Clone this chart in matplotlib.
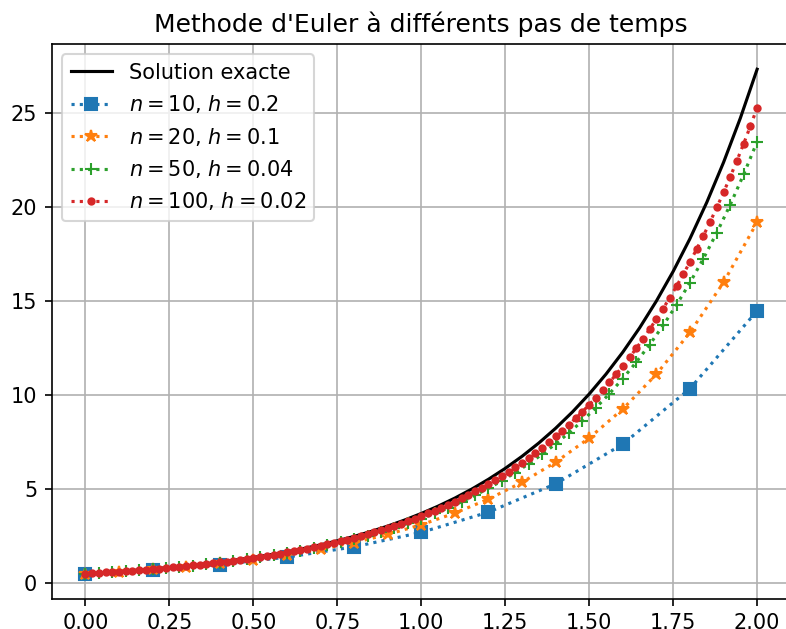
import numpy as np
import matplotlib.pyplot as plt

# solution exacte, echantillonnee tous les 0.05
y_exact = [0.5, 0.5526, 0.6107, 0.6749, 0.7459, 0.8244, 0.9111, 1.0069, 1.1128, 1.2298,
           1.3591, 1.5021, 1.6601, 1.8346, 2.0276, 2.2408, 2.4765, 2.7370, 3.0248, 3.3429,
           3.6945, 4.0831, 4.5125, 4.9871, 5.5116, 6.0912, 6.7319, 7.4399, 8.2223, 9.0871,
           10.0428, 11.0990, 12.2663, 13.5563, 14.9821, 16.5577, 18.2991, 20.2237, 22.3506,
           24.7012, 27.2991]

# Euler, n = 10
y_n10 = [0.5, 0.7, 0.98, 1.372, 1.9208, 2.6891, 3.7648, 5.2707, 7.3790, 10.3305, 14.4627]

# Euler, n = 20
y_n20 = [0.5, 0.6, 0.72, 0.864, 1.0368, 1.2442, 1.4930, 1.7916, 2.1499, 2.5799, 3.0959,
         3.7150, 4.4581, 5.3497, 6.4196, 7.7035, 9.2442, 11.0931, 13.3117, 15.9740, 19.1688]

# Euler, n = 50
y_n50 = [0.5, 0.54, 0.5832, 0.6299, 0.6802, 0.7347, 0.7934, 0.8569, 0.9255, 0.9995,
         1.0795, 1.1658, 1.2591, 1.3598, 1.4686, 1.5861, 1.7130, 1.8500, 1.9980, 2.1579,
         2.3305, 2.5169, 2.7183, 2.9357, 3.1706, 3.4242, 3.6982, 3.9940, 4.3136, 4.6586,
         5.0313, 5.4338, 5.8685, 6.3380, 6.8451, 7.3927, 7.9841, 8.6228, 9.3126, 10.0576,
         10.8623, 11.7312, 12.6697, 13.6833, 14.7780, 15.9602, 17.2370, 18.6160, 20.1053,
         21.7137, 23.4508]

# Euler, n = 100
y_n100 = [0.5, 0.52, 0.5408, 0.5624, 0.5849, 0.6083, 0.6327, 0.6580, 0.6843, 0.7117,
          0.7401, 0.7697, 0.8005, 0.8325, 0.8658, 0.9005, 0.9365, 0.9740, 1.0129, 1.0534,
          1.0956, 1.1394, 1.1850, 1.2324, 1.2817, 1.3329, 1.3862, 1.4417, 1.4994, 1.5593,
          1.6217, 1.6866, 1.7540, 1.8242, 1.8972, 1.9730, 2.0520, 2.1340, 2.2194, 2.3082,
          2.4005, 2.4965, 2.5964, 2.7002, 2.8083, 2.9206, 3.0374, 3.1589, 3.2853, 3.4167,
          3.5533, 3.6955, 3.8433, 3.9970, 4.1569, 4.3232, 4.4961, 4.6760, 4.8630, 5.0575,
          5.2598, 5.4702, 5.6890, 5.9166, 6.1532, 6.3994, 6.6553, 6.9216, 7.1984, 7.4864,
          7.7858, 8.0972, 8.4211, 8.7580, 9.1083, 9.4726, 9.8515, 10.2456, 10.6554, 11.0816,
          11.5249, 11.9859, 12.4653, 12.9639, 13.4825, 14.0218, 14.5827, 15.1660, 15.7726,
          16.4035, 17.0597, 17.7421, 18.4517, 19.1898, 19.9574, 20.7557, 21.5859, 22.4494,
          23.3473, 24.2812, 25.2525]

t_fin = 2.0

fig = plt.figure(figsize=(786 / 150, 629 / 150), dpi=150)
# l'axe deborde un peu a droite, comme dans l'original
ax = fig.add_axes([0.066, 0.048, 0.94, 0.882])

ax.plot(np.linspace(0, t_fin, len(y_exact)), y_exact, color='black',
        label='Solution exacte')
ax.plot(np.linspace(0, t_fin, len(y_n10)), y_n10, ':s', label=r'$n = 10$, $h = 0.2$')
ax.plot(np.linspace(0, t_fin, len(y_n20)), y_n20, ':*', label=r'$n = 20$, $h = 0.1$')
ax.plot(np.linspace(0, t_fin, len(y_n50)), y_n50, ':+', label=r'$n = 50$, $h = 0.04$')
ax.plot(np.linspace(0, t_fin, len(y_n100)), y_n100, ':.', label=r'$n = 100$, $h = 0.02$')

ax.set_title("Methode d'Euler à différents pas de temps")
ax.grid(True)
ax.legend(loc='upper left')

fig.savefig('out.png', dpi=150)
